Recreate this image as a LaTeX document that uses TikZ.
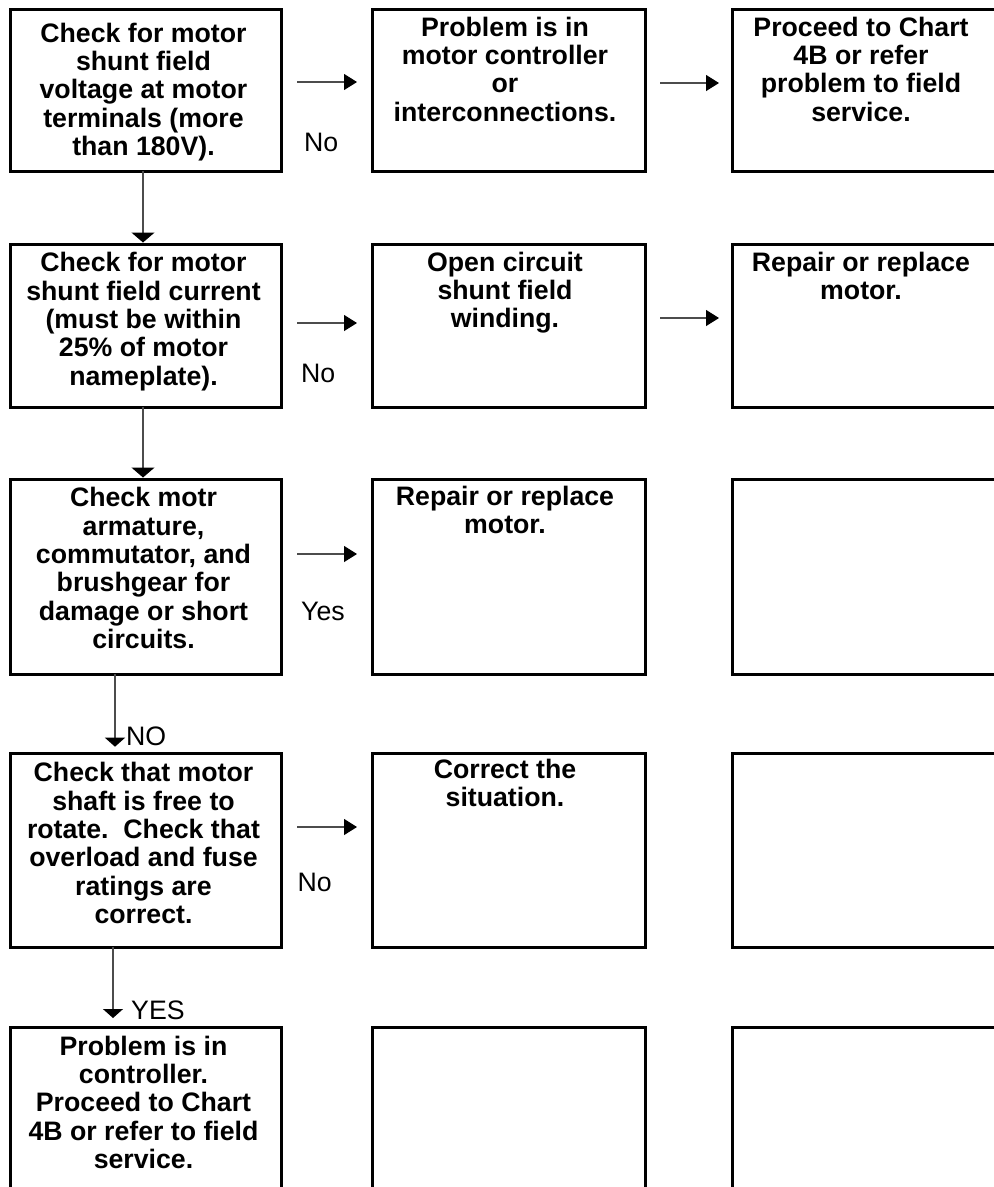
\documentclass[tikz,border=0pt]{standalone}
\usepackage{fontspec}
\setmainfont{Liberation Sans}
\usetikzlibrary{arrows.meta}
\begin{document}
\begin{tikzpicture}[x=1bp,y=-1bp,
  box/.style={draw, line width=3bp, inner sep=0pt, outer sep=0pt, anchor=north west},
  lcol/.style={box, minimum width=271bp},
  wcol/.style={box, minimum width=273bp},
  txt/.style={anchor=north, inner sep=0pt, align=center,
    font=\bfseries\fontsize{26.7bp}{28.3bp}\selectfont},
  lbl/.style={anchor=base west, inner sep=0pt,
    font=\fontsize{26.7bp}{28.3bp}\selectfont},
  conn/.style={line width=1.2bp, draw=black!70},
  harrow/.style={conn, -{Triangle[length=13bp, width=16bp, color=black]}},
  varrow/.style={conn, -{Triangle[length=10bp, width=23bp, color=black]}},
  sarrow/.style={conn, -{Triangle[length=9bp, width=20bp, color=black]}}
]
\useasboundingbox (0,0) rectangle (994,1187);
\clip (0,0) rectangle (994,1187);

% boxes: three columns, five rows
\node[lcol, minimum height=162bp] (l1) at (10.5,9) {};
\node[wcol, minimum height=162bp] (m1) at (372,9) {};
\node[wcol, minimum height=162bp] (r1) at (732,9) {};
\node[lcol, minimum height=163bp] (l2) at (10.5,244) {};
\node[wcol, minimum height=163bp] (m2) at (372,244) {};
\node[wcol, minimum height=163bp] (r2) at (732,244) {};
\node[lcol, minimum height=195bp] (l3) at (10.5,479) {};
\node[wcol, minimum height=195bp] (m3) at (372,479) {};
\node[wcol, minimum height=195bp] (r3) at (732,479) {};
\node[lcol, minimum height=194bp] (l4) at (10.5,753) {};
\node[wcol, minimum height=194bp] (m4) at (372,753) {};
\node[wcol, minimum height=194bp] (r4) at (732,753) {};
\node[lcol, minimum height=180bp] (l5) at (10.5,1027) {};
\node[wcol, minimum height=180bp] (m5) at (372,1027) {};
\node[wcol, minimum height=180bp] (r5) at (732,1027) {};

% box texts
\node[txt] (tl1) at (143.5,22.2) {\strut Check for motor\\shunt field\\voltage at motor\\terminals (more\\than 180V).};
\node[txt] (tm1) at (505,16.2) {\strut Problem is in\\motor controller\\or\\interconnections.};
\node[txt] (tr1) at (861,16.2) {\strut Proceed to Chart\\4B or refer\\problem to field\\service.};
\node[txt] (tl2) at (143.5,251.9) {\strut Check for motor\\shunt field current\\(must be within\\25\% of motor\\nameplate).};
\node[txt] (tm2) at (505,251.2) {\strut Open circuit\\shunt field\\winding.};
\node[txt] (tr2) at (861,251.2) {\strut Repair or replace\\motor.};
\node[txt] (tl3) at (143.5,486.9) {\strut Check motr\\armature,\\commutator, and\\brushgear for\\damage or short\\circuits.};
\node[txt] (tm3) at (505,485.2) {\strut Repair or replace\\motor.};
\node[txt] (tl4) at (143.5,761.9) {\strut Check that motor\\shaft is free to\\rotate.\ \ Check that\\overload and fuse\\ratings are\\correct.};
\node[txt] (tm4) at (505,758.2) {\strut Correct the\\situation.};
\node[txt] (tl5) at (143.5,1035.2) {\strut Problem is in\\controller.\\Proceed to Chart\\4B or refer to field\\service.};

% horizontal connectors
\draw[harrow, shorten <=15.5bp, shorten >=15bp] ([yshift=-73bp]l1.north east) -- ([yshift=-73bp]m1.north west);
\draw[harrow, shorten <=15bp, shorten >=13bp] ([yshift=-74bp]m1.north east) -- ([yshift=-74bp]r1.north west);
\draw[harrow, shorten <=15.5bp, shorten >=15bp] ([yshift=-79bp]l2.north east) -- ([yshift=-79bp]m2.north west);
\draw[harrow, shorten <=15bp, shorten >=13bp] ([yshift=-74bp]m2.north east) -- ([yshift=-74bp]r2.north west);
\draw[harrow, shorten <=15.5bp, shorten >=15bp] ([yshift=-75bp]l3.north east) -- ([yshift=-75bp]m3.north west);
\draw[harrow, shorten <=15.5bp, shorten >=15bp] ([yshift=-74bp]l4.north east) -- ([yshift=-74bp]m4.north west);

% vertical connectors
\draw[varrow, shorten >=1.5bp] ([xshift=-3bp]l1.south) -- ([xshift=-3bp]l2.north);
\draw[varrow, shorten >=1.5bp] ([xshift=-3bp]l2.south) -- ([xshift=-3bp]l3.north);
\draw[sarrow, shorten >=6.3bp] ([xshift=-31bp]l3.south) -- ([xshift=-31bp]l4.north);
\draw[sarrow, shorten >=9bp] ([xshift=-33bp]l4.south) -- ([xshift=-33bp]l5.north);

% connector labels
\node[lbl] (n1) at (304,151.7) {No};
\node[lbl] (n2) at (301,382.7) {No};
\node[lbl] (n3) at (301,620) {Yes};
\node[lbl] (n4) at (297.5,891.7) {No};
\node[lbl] (n5) at (126,745) {NO};
\node[lbl] (n6) at (131,1019) {YES};
\end{tikzpicture}
\end{document}
